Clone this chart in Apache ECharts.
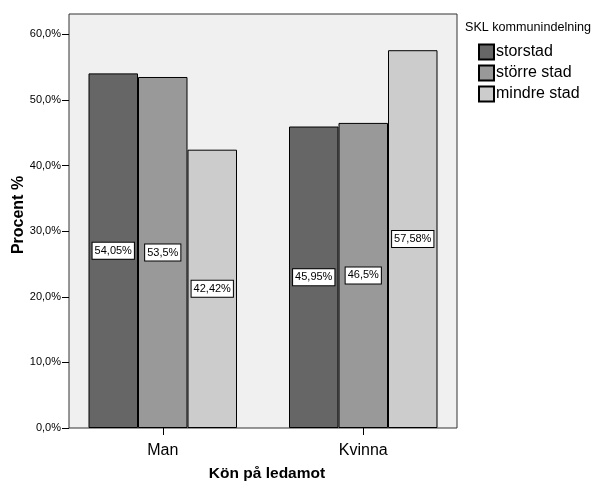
<!DOCTYPE html>
<html>
<head>
<meta charset="utf-8">
<script src="https://cdn.jsdelivr.net/npm/echarts@6/dist/echarts.min.js"></script>
<style>
  html, body { margin: 0; padding: 0; background: #ffffff; }
  #chart { width: 594px; height: 483px; }
</style>
</head>
<body>
<div id="chart"></div>
<script>
// Share of members by gender within each municipality group (percent)
const categories = ['Man', 'Kvinna'];
const seriesNames = ['storstad', 'större stad', 'mindre stad'];
const storstad = [54.05, 45.95];
const storreStad = [53.5, 46.5];
const mindreStad = [42.42, 57.58];
const yTicks = [0, 10, 20, 30, 40, 50, 60];

const seriesData = [storstad, storreStad, mindreStad];
const colors = ['#666666', '#999999', '#cccccc'];
const font = 'Arial, "Liberation Sans", sans-serif';

function fmtPct(v, decimals) {
  return v.toFixed(decimals).replace('.', ',') + '%';
}
function fmtLabel(v) {
  return String(v).replace('.', ',') + '%';
}

const chart = echarts.init(document.getElementById('chart'), null, { renderer: 'canvas' });

const option = {
  animation: false,
  backgroundColor: '#ffffff',
  textStyle: { fontFamily: font },
  graphic: [{
    type: 'rect',
    z: -10,
    silent: true,
    shape: { x: 69, y: 14, width: 388, height: 414 },
    style: { fill: '#f0f0f0', stroke: '#333333', lineWidth: 1 }
  }, {
    type: 'text',
    left: 465,
    top: 21,
    style: { text: 'SKL kommunindelning', fill: '#000000', font: '12.6px ' + font }
  }],
  grid: { left: 62.5, right: 130.5, top: 14, bottom: 55, containLabel: false, outerBoundsMode: 'none' },
  legend: {
    orient: 'vertical',
    left: 476,
    top: 41,
    itemWidth: 15,
    itemHeight: 15,
    itemGap: 3,
    icon: 'rect',
    padding: [2, 2],
    textStyle: { fontSize: 16, lineHeight: 18, color: '#000000', fontFamily: font, padding: [0, 0, 0, -3] },
    data: seriesNames
  },
  xAxis: {
    type: 'category',
    data: categories,
    boundaryGap: true,
    name: 'Kön på ledamot',
    nameLocation: 'middle',
    nameGap: 38,
    nameMoveOverlap: false,
    nameTextStyle: { fontSize: 15.5, fontWeight: 'bold', color: '#000000', fontFamily: font, padding: [0, 0, 0, 8] },
    axisLine: { show: false },
    axisTick: { show: true, alignWithLabel: true, length: 7, lineStyle: { color: '#000000' } },
    axisLabel: { fontSize: 16, color: '#000000', margin: 15, fontFamily: font },
    splitLine: { show: false }
  },
  yAxis: {
    type: 'value',
    min: 0,
    max: 63.1,
    interval: 10,
    offset: -6.5,
    name: 'Procent %',
    nameLocation: 'middle',
    nameGap: 42,
    nameMoveOverlap: false,
    nameTextStyle: { fontSize: 16, fontWeight: 'bold', color: '#000000', fontFamily: font, padding: [0, 0, 0, 12] },
    axisLine: { show: false },
    axisTick: { show: true, length: 7, lineStyle: { color: '#000000' }, customValues: yTicks },
    axisLabel: {
      fontSize: 11,
      color: '#000000',
      margin: 8,
      fontFamily: font,
      customValues: yTicks,
      formatter: v => fmtPct(v, 1)
    },
    splitLine: { show: false }
  },
  series: seriesNames.map((name, i) => ({
    name: name,
    type: 'bar',
    data: seriesData[i],
    barWidth: 49.5,
    barGap: '0%',
    itemStyle: { color: colors[i], borderColor: '#000000', borderWidth: 1 },
    label: {
      show: true,
      position: 'inside',
      formatter: p => fmtLabel(p.value),
      color: '#000000',
      fontSize: 11,
      fontFamily: font,
      backgroundColor: '#ffffff',
      borderColor: '#000000',
      borderWidth: 1,
      padding: [3, 2, 2, 2]
    }
  }))
};

chart.setOption(option);
</script>
</body>
</html>
